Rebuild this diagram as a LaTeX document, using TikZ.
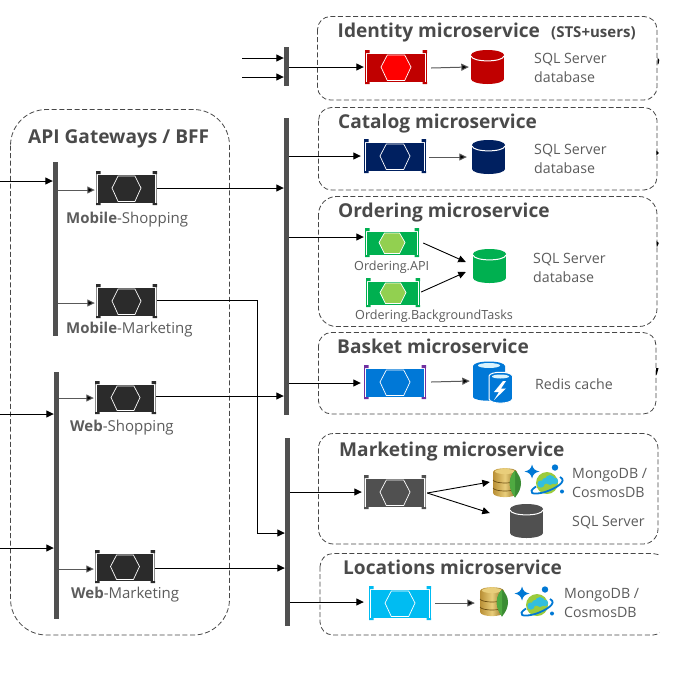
\documentclass[tikz,border=0pt]{standalone}
\usepackage{fontspec}
\setmainfont{Open Sans}
\usetikzlibrary{arrows.meta,calc}
\definecolor{ink}{HTML}{4A4A4A}
\definecolor{soft}{HTML}{5C5C5C}
\definecolor{barc}{HTML}{505050}
\definecolor{cRed}{HTML}{C00000}
\definecolor{cHot}{HTML}{FF0000}
\definecolor{cNavy}{HTML}{002060}
\definecolor{cGreen}{HTML}{00B050}
\definecolor{cLime}{HTML}{92D050}
\definecolor{cBlue}{HTML}{0078D7}
\definecolor{cViolet}{HTML}{7030A0}
\definecolor{cCyan}{HTML}{00BCF2}
\definecolor{cDark}{HTML}{2B2B2B}
\definecolor{cEdge}{HTML}{8C8C8C}
\definecolor{cAzure}{HTML}{0078D4}
\definecolor{cPlanet}{HTML}{9BCB3C}
\definecolor{cCloud}{HTML}{32BEDD}
\definecolor{cGold}{HTML}{E9CE7B}
\definecolor{cGoldL}{HTML}{B98F35}
\definecolor{cGoldR}{HTML}{8A6518}
\definecolor{cGoldLine}{HTML}{6E5013}
\definecolor{cLeafA}{HTML}{4FAA41}
\definecolor{cLeafB}{HTML}{3B8C34}
\tikzset{
  flow/.style={draw=black,line width=0.9pt,-{Triangle[length=7.5pt,width=7pt]}},
  flowgray/.style={draw=black!65,line width=1pt,-{Triangle[length=7.5pt,width=7pt,fill=black]}},
  group/.style={draw=black!72,line width=0.8pt,dash pattern=on 5pt off 2.6pt,rounded corners=13pt},
  busbar/.style={fill=barc,draw=none,inner sep=0pt,minimum width=5pt},
  titletxt/.style={anchor=base west,inner sep=0pt,text=ink,font=\bfseries\fontsize{19.1}{23}\selectfont},
  bigtxt/.style={anchor=base west,inner sep=0pt,text=ink,font=\bfseries\fontsize{15}{18}\selectfont},
  dbtxt/.style={anchor=west,inner sep=0pt,align=left,text=soft,font=\fontsize{14.2}{19}\selectfont},
  gwtxt/.style={anchor=west,inner sep=0pt,text=soft,font=\fontsize{15}{17}\selectfont},
  smalltxt/.style={anchor=west,inner sep=0pt,text=soft,font=\fontsize{12.6}{14}\selectfont},
  anchorbox/.style={inner sep=0pt,draw=none,minimum width=#1},
  edgemark/.style={fill=black,draw=none},
}
% name, left, top, right, bottom, fill, bracket, hexfill, hexhalfwidth; tabs use colour tabc
\newcommand{\apibox}[9]{%
  \fill[#6] ({#2+1.6},{#3+3.5}) rectangle ({#4-1.6},{#5-2.5});
  \draw[#7,line width=0.9pt] ({#2+0.5},{#3+0.5}) -- ({#2+0.5},{#5-0.5});
  \draw[#7,line width=0.9pt] ({#4-0.5},{#3+0.5}) -- ({#4-0.5},{#5-0.5});
  \fill[tabc] ({#2},{#3}) rectangle ({#2+4.5},{#3+3}) ({#4-4.5},{#3}) rectangle ({#4},{#3+3})
            ({#2},{#5}) rectangle ({#2+4.5},{#5-2}) ({#4-4.5},{#5}) rectangle ({#4},{#5-2});
  \draw[white,line width=0.7pt,fill=#8]
    ({(#2+#4)/2-#9},{(#3+#5)/2}) -- ({(#2+#4)/2-#9*0.58},{#3+5}) -- ({(#2+#4)/2+#9*0.58},{#3+5})
    -- ({(#2+#4)/2+#9},{(#3+#5)/2}) -- ({(#2+#4)/2+#9*0.58},{#5-3.5}) -- ({(#2+#4)/2-#9*0.58},{#5-3.5}) -- cycle;
  \node[anchorbox=0pt] (#1) at ({(#2+#4)/2},{(#3+#5)/2}) [minimum width=({#4-#2})*1pt,minimum height=({#5-#3})*1pt] {};
}
% name, left, top, right, bottom, colour
\newcommand{\dbcyl}[6]{%
  \fill[#6] ({#2},{#3+5}) rectangle ({#4},{#5-5});
  \fill[#6] ({(#2+#4)/2},{#5-5}) ellipse [x radius={(#4-#2)/2},y radius=5];
  \fill[#6] ({(#2+#4)/2},{#3+5}) ellipse [x radius={(#4-#2)/2},y radius=5];
  \draw[white,line width=1pt] ({#2},{#3+6}) .. controls ({#2+1},{#3+12.5}) and ({#4-1},{#3+12.5}) .. ({#4},{#3+6});
  \node[anchorbox=0pt] (#1) at ({(#2+#4)/2},{(#3+#5)/2}) [minimum width=({#4-#2})*1pt,minimum height=({#5-#3})*1pt] {};
}
% name, left, top
\newcommand{\mongoicon}[3]{%
  \begin{scope}[shift={(#2,#3)}]
    \shade[left color=cGoldL,right color=cGoldR,middle color=cGold]
      (0,4) -- (0,25) .. controls (1,30.5) and (23,30.5) .. (24,25) -- (24,4) .. controls (23,-1.2) and (1,-1.2) .. (0,4) -- cycle;
    \draw[cGoldLine,line width=0.7pt] (0,12) .. controls (2,16) and (22,16) .. (24,12);
    \draw[cGoldLine,line width=0.7pt] (0,20) .. controls (2,24) and (22,24) .. (24,20);
    \fill[cGold] (12,3.5) ellipse [x radius=10,y radius=2.5];
    \fill[cLeafB] (22,2.5) .. controls (15,10) and (15,20) .. (22,29.5) .. controls (30,20) and (30,10) .. (22,2.5) -- cycle;
    \fill[cLeafA] (22,2.5) .. controls (15,10) and (15,20) .. (22,29.5) -- cycle;
    \node[anchorbox=0pt] (#1) at (13,14.5) [minimum width=26pt,minimum height=29pt] {};
  \end{scope}
}
% name, planet centre x, y
\newcommand{\cosmosicon}[3]{%
  \begin{scope}[shift={(#2,#3)}]
    \fill[cPlanet] (0,0) circle (11);
    \fill[cCloud] (-6,1) circle (3.6) (3,-3) circle (5) (8,-2) circle (3.2) (-2,-2) circle (3);
    \draw[cAzure,line width=1.8pt] (-11,3.5) .. controls (-21,10) and (-14,12.5) .. (-2,9) .. controls (9,5.5) and (21,-2) .. (13,-6);
    \fill[cAzure] (-15,-18.5) .. controls (-14,-14) and (-12,-12.5) .. (-7.5,-11.5) .. controls (-12,-10.5) and (-14,-9) .. (-15,-4.5) .. controls (-16,-9) and (-18,-10.5) .. (-22.5,-11.5) .. controls (-18,-12.5) and (-16,-14) .. (-15,-18.5) -- cycle;
    \fill[cAzure] (8,-15.5) circle (3.2) (15,8.5) circle (2);
    \node[anchorbox=0pt] (#1) at (0,0) [minimum width=22pt,minimum height=22pt] {};
  \end{scope}
}
\begin{document}
\begin{tikzpicture}[x=1pt,y=-1pt]
\useasboundingbox (0,0) rectangle (695,678);
\fill[white] (0,0) rectangle (695,678);

% group outlines
\draw[group] (317.5,16.5) rectangle (657,100);
\draw[group] (318.5,107.5) rectangle (657,190);
\draw[group,rounded corners=18pt] (318.5,196.5) rectangle (657,326.5);
\draw[group] (318.5,332.5) rectangle (656,414);
\draw[group,rounded corners=15pt] (318.5,433.5) rectangle (658,544);
\begin{scope}
  \clip (300,540) rectangle (659.5,650);
  \draw[group,rounded corners=13pt] (320,553.5) rectangle (666,635);
\end{scope}
\draw[group,rounded corners=36pt] (10.5,109.5) rectangle (229.5,635);

% marks on the right edges
\fill[edgemark] (657.5,57.5) -- (659.3,60) -- (658.5,64) -- (657.5,64) -- cycle;
\fill[edgemark] (656.3,150.5) -- (658.8,153) -- (656.3,155.5) -- cycle;
\fill[edgemark] (656.5,241) -- (658.8,243) -- (657.3,246.5) -- (656.5,246.5) -- cycle;
\fill[edgemark] (656.2,368) -- (658.5,368) -- (656.8,374.5) -- (656.2,374.5) -- cycle;

% titles
\node[titletxt] (tIdentity) at (337.5,37.5) {Identity microservice};
\node[bigtxt] (tSts) at (551,37.5) {(STS+users)};
\node[titletxt] (tCatalog) at (338,128) {Catalog microservice};
\node[titletxt] (tOrdering) at (338,217) {Ordering microservice};
\node[titletxt] (tBasket) at (337,353) {Basket microservice};
\node[titletxt] (tMarketing) at (339,456.5) {Marketing microservice};
\node[titletxt] (tLocations) at (343,574) {Locations microservice};
\node[titletxt] (tApi) at (28,143.5) {API Gateways / BFF};

% bars
\node[busbar,minimum height=38.5pt] (barTop) at (286.5,66.25) {};
\node[busbar,minimum height=297pt] (barMid) at (286.5,266.5) {};
\node[busbar,minimum height=188pt] (barLow) at (287.5,532) {};
\node[busbar,minimum height=174pt] (barGwA) at (55.5,249) {};
\node[busbar,minimum height=247pt] (barGwB) at (56.5,495.5) {};

% API icons
\colorlet{tabc}{cRed}
\apibox{apiIdentity}{365}{50}{427}{84}{cRed}{cRed}{cHot}{15}
\colorlet{tabc}{cNavy}
\apibox{apiCatalog}{364}{139}{426}{173}{cNavy}{cNavy}{cNavy}{15}
\colorlet{tabc}{cGreen}
\apibox{apiOrdering}{365}{228}{419}{257}{cGreen}{cGreen}{cLime}{13}
\apibox{apiTasks}{366}{278}{420}{307}{cGreen}{cGreen}{cLime}{13}
\colorlet{tabc}{cViolet}
\apibox{apiBasket}{364}{365}{426}{399}{cBlue}{cViolet}{cBlue}{15}
\colorlet{tabc}{barc}
\apibox{apiMarketing}{364}{475}{426}{509}{barc}{cEdge}{barc}{15}
\colorlet{tabc}{cCyan}
\apibox{apiLocations}{369}{586}{431}{620}{cCyan}{cCyan}{cCyan}{15}
\colorlet{tabc}{cDark}
\apibox{gwMobShop}{96}{171}{157}{205}{cDark}{cEdge}{cDark}{14.5}
\apibox{gwMobMkt}{96}{284}{157}{318}{cDark}{cEdge}{cDark}{14.5}
\apibox{gwWebShop}{95}{381}{156}{414}{cDark}{cEdge}{cDark}{14.5}
\apibox{gwWebMkt}{95}{550}{155}{583}{cDark}{cEdge}{cDark}{14.5}

% databases
\dbcyl{dbIdentity}{471}{50}{504}{84}{cRed}
\dbcyl{dbCatalog}{472}{140}{505}{174}{cNavy}
\dbcyl{dbOrdering}{473}{249}{506}{283}{cGreen}
\dbcyl{dbMarketing}{510}{504}{543}{538}{barc}

% redis icon
\fill[cBlue] (473,366) -- (473,397) .. controls (474,402) and (504,402) .. (505,397) -- (505,366) .. controls (504,360) and (474,360) .. (473,366) -- cycle;
\fill[white!85!cyan] (489,365.5) ellipse [x radius=11,y radius=2.5];
\draw[white,line width=1pt,fill=cBlue] (489,376) .. controls (490,371) and (511,371) .. (512.5,376) -- (512.5,399) .. controls (511,404.5) and (490,404.5) .. (489,399) -- cycle;
\fill[white!85!cyan] (500.5,376.5) ellipse [x radius=8.5,y radius=2];
\fill[white] (503,381) -- (494,392) -- (499,392) -- (494,400) -- (506,388.5) -- (501,388.5) -- (506,381) -- cycle;
\node[anchorbox=0pt] (dbRedis) at (492.5,382) [minimum width=39pt,minimum height=42pt] {};

% mongo + cosmos
\mongoicon{dbMongoA}{493}{468}
\cosmosicon{dbCosmosA}{547}{483}
\mongoicon{dbMongoB}{480}{587}
\cosmosicon{dbCosmosB}{537}{605}

% database labels
\node[dbtxt] (lIdentity) at (534,67.5) {SQL Server\\database};
\node[dbtxt] (lCatalog) at (534,158.5) {SQL Server\\database};
\node[dbtxt] (lOrdering) at (533,267.5) {SQL Server\\database};
\node[dbtxt] (lRedis) at (535,384) {Redis cache};
\node[dbtxt] (lMongoA) at (572,482.5) {MongoDB /\\CosmosDB};
\node[dbtxt] (lSql) at (572,522.5) {SQL Server};
\node[dbtxt] (lMongoB) at (564,602.5) {MongoDB /\\CosmosDB};

% gateway + service labels
\node[gwtxt] (lMobShop) at (66,219.5) {\textbf{Mobile}-Shopping};
\node[gwtxt] (lMobMkt) at (66,330) {\textbf{Mobile}-Marketing};
\node[gwtxt] (lWebShop) at (70,427.5) {\textbf{Web}-Shopping};
\node[gwtxt] (lWebMkt) at (71,594.5) {\textbf{Web}-Marketing};
\node[smalltxt] (lOrdApi) at (354,267) {Ordering.API};
\node[smalltxt] (lOrdTasks) at (355,316) {Ordering.BackgroundTasks};

% free ends
\coordinate (inA) at (242,58);
\coordinate (inB) at (242,77);
\coordinate (inC) at (0,181);
\coordinate (inD) at (0,414);
\coordinate (inE) at (0,548);

% incoming
\draw[flow] (inA) -- (barTop.west |- inA);
\draw[flow] (inB) -- (barTop.west |- inB);
\draw[flow] (inC) -- (barGwA.west |- inC);
\draw[flow] (inD) -- (barGwB.west |- inD);
\draw[flow] (inE) -- (barGwB.west |- inE);

% bars to gateways
\draw[flowgray] (barGwA.east |- 0,190) -- ([xshift=-1pt]gwMobShop.west |- 0,190);
\draw[flowgray] (barGwA.east |- 0,303) -- ([xshift=-1pt]gwMobMkt.west |- 0,303);
\draw[flowgray] (barGwB.east |- 0,398) -- ([xshift=-1pt]gwWebShop.west |- 0,398);
\draw[flowgray] (barGwB.east |- 0,569) -- ([xshift=-1pt]gwWebMkt.west |- 0,569);

% gateways to bars
\draw[flow] (gwMobShop.east |- 0,188) -- (barMid.west |- 0,188);
\draw[flow] (gwWebShop.east |- 0,396) -- (barMid.west |- 0,396);
\draw[flow] (gwWebMkt.east |- 0,568) -- (barLow.west |- 0,568);
\draw[flow] (gwMobMkt.east |- 0,300) -- (257,300) -- (257,533) -- (barLow.west |- 0,533);

% bars to services
\draw[flow] (barTop.east |- 0,67) -- ([xshift=-1pt]apiIdentity.west |- 0,67);
\draw[flow] (barMid.east |- 0,156) -- ([xshift=-3pt]apiCatalog.west |- 0,156);
\draw[flow] (barMid.east |- 0,237) -- ([xshift=-1pt]apiOrdering.west |- 0,237);
\draw[flow] (barMid.east |- 0,383) -- ([xshift=-3pt]apiBasket.west |- 0,383);
\draw[flow] (barLow.east |- 0,492) -- ([xshift=-2pt]apiMarketing.west |- 0,492);
\draw[flow] (barLow.east |- 0,602) -- ([xshift=-5pt]apiLocations.west |- 0,602);

% services to stores
\draw[flowgray] ([xshift=4pt]apiIdentity.east |- 0,68) -- ([xshift=-2pt]dbIdentity.west |- 0,67);
\draw[flowgray] ([xshift=3pt]apiCatalog.east |- 0,157) -- ([xshift=-5pt]dbCatalog.west |- 0,157);
\draw[flow] ([xshift=4pt]apiOrdering.east |- 0,243) -- ([xshift=-7pt]dbOrdering.west |- 0,262);
\draw[flow] ([xshift=1pt]apiTasks.east |- 0,292) -- ([xshift=-7pt]dbOrdering.west |- 0,272);
\draw[flowgray] ([xshift=5pt]apiBasket.east |- 0,382) -- ([xshift=-3pt]dbRedis.west |- 0,381);
\coordinate (fork) at ([xshift=1pt]apiMarketing.east |- 0,493);
\draw[flow] (fork) -- ([xshift=-3pt]dbMongoA.west |- 0,482);
\draw[flow] (fork) -- ([xshift=-3pt]dbMongoA.west |- 0,513);
\draw[flowgray] ([xshift=4pt]apiLocations.east |- 0,603) -- ([xshift=-5pt]dbMongoB.west |- 0,603);
\end{tikzpicture}
\end{document}
